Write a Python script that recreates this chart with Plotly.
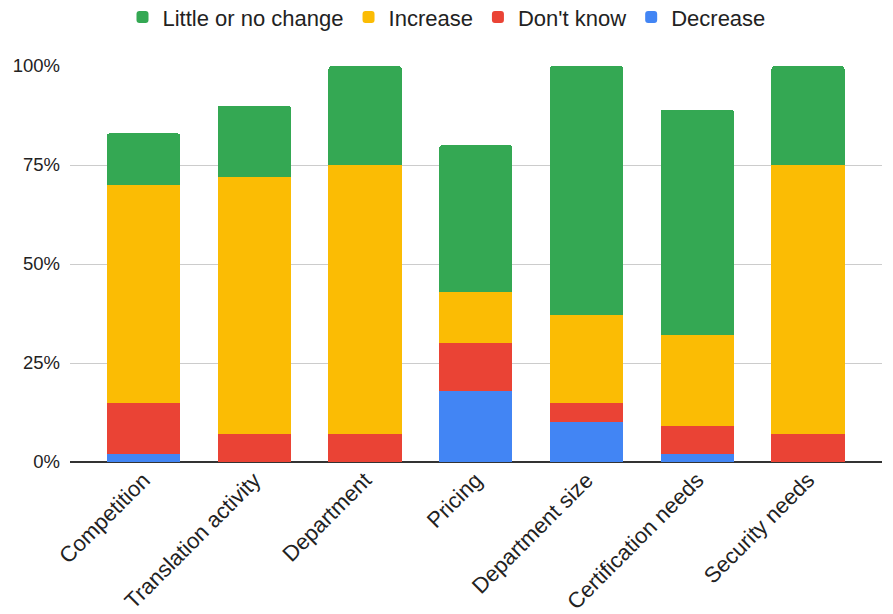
import plotly.graph_objects as go

categories = ["Competition", "Translation activity", "Department", "Pricing",
              "Department size", "Certification needs", "Security needs"]

decrease = [2, 0, 0, 18, 10, 2, 0]
dont_know = [13, 7, 7, 12, 5, 7, 7]
increase = [55, 65, 68, 13, 22, 23, 68]
little_change = [13, 18, 25, 37, 63, 57, 25]

y_ticks = [0, 25, 50, 75, 100]
y_tick_labels = ["0%", "25%", "50%", "75%", "100%"]

series = [
    ("Decrease", decrease, "#4285F4"),
    ("Don't know", dont_know, "#EA4335"),
    ("Increase", increase, "#FBBC04"),
    ("Little or no change", little_change, "#34A853"),
]

fig = go.Figure()
for name, values, color in series:
    fig.add_trace(go.Bar(
        x=categories, y=values, name=name,
        marker=dict(color=color, line=dict(width=0)),
        hovertemplate="%{x}<br>" + name + ": %{y}%<extra></extra>",
    ))

fig.update_layout(
    width=893, height=614,
    barmode="stack",
    bargap=0.34,
    barcornerradius=3,
    paper_bgcolor="white",
    plot_bgcolor="white",
    font=dict(family="Liberation Sans, Arial, sans-serif", color="#222222"),
    margin=dict(l=70, r=11, t=66, b=152),
    legend=dict(
        orientation="h", traceorder="reversed",
        xref="container", yref="container",
        x=0.5, xanchor="center", y=0.972, yanchor="middle",
        font=dict(size=22, color="#222222"),
        itemwidth=30,
    ),
    xaxis=dict(
        range=[-0.664, 6.668],
        tickangle=-45,
        tickfont=dict(size=22, color="#222222"),
        showgrid=False,
        showline=False,
        ticks="",
        automargin=False,
    ),
    yaxis=dict(
        range=[0, 100],
        tickvals=y_ticks,
        ticktext=y_tick_labels,
        tickfont=dict(size=18.5, color="#222222"),
        showgrid=True,
        gridcolor="#cccccc",
        gridwidth=1,
        zeroline=True,
        zerolinecolor="#333333",
        zerolinewidth=2,
        ticks="",
        ticklabelstandoff=9,
        automargin=False,
    ),
)

fig.write_html("out.html")
